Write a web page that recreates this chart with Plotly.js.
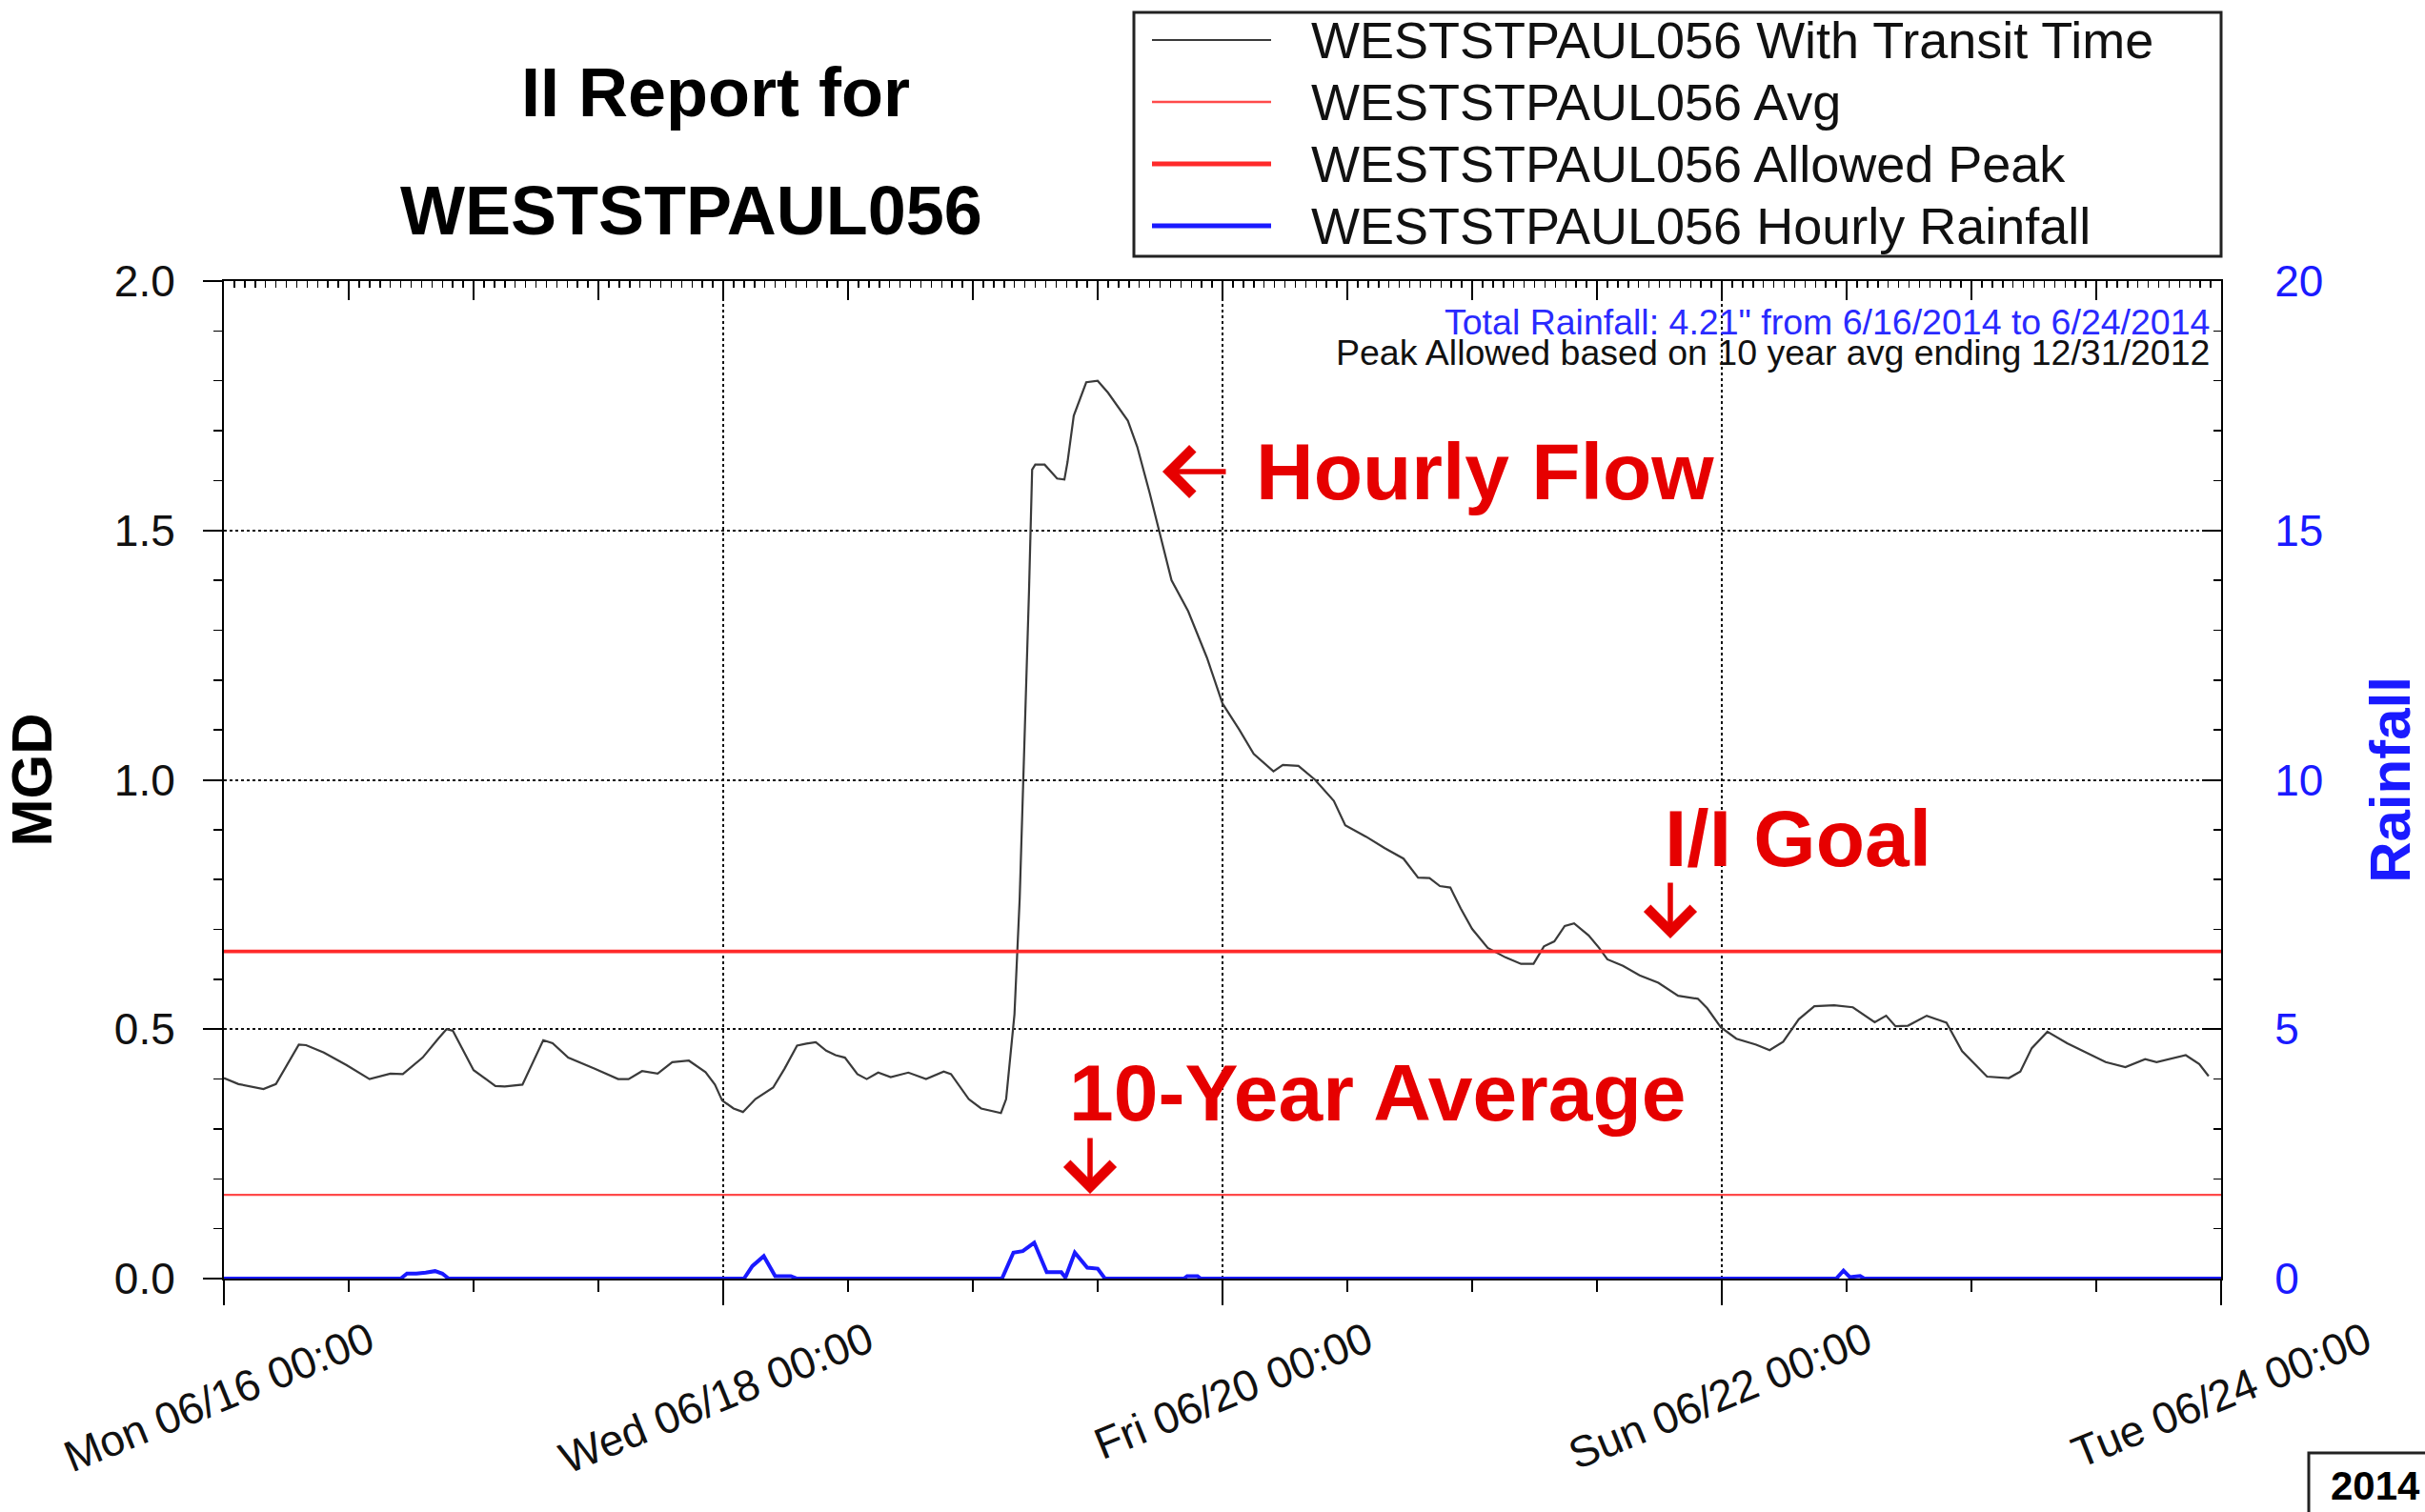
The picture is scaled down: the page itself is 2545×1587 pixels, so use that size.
<!DOCTYPE html>
<html><head><meta charset="utf-8">
<script src="https://cdn.plot.ly/plotly-3.0.1.min.js"></script>
<style>html,body{margin:0;padding:0;background:#fff;}</style>
</head><body>
<div id="chart" style="width:2545px;height:1587px;"></div>
<script>
// ---- data ----
const seriesNames = ['WESTSTPAUL056 With Transit Time','WESTSTPAUL056 Avg','WESTSTPAUL056 Allowed Peak','WESTSTPAUL056 Hourly Rainfall'];
const seriesColors = ['#3a3a3a', '#ff4a4a', '#ff2a2a', '#1a1aff'];
const rangeStart = '2014-06-16 00:00:00';
const rangeEnd = '2014-06-24 00:00:00';
// hours after Mon 06/16 00:00
const flowHours = [0,1.4,3.8,5.0,7.2,7.9,9.6,11.8,14.0,15.4,16.0,17.2,19.1,20.6,21.4,22.0,24.0,26.1,27.0,28.7,30.7,31.6,33.1,35.6,37.9,38.9,40.2,41.7,43.1,44.7,46.3,47.2,47.9,49.0,49.9,51.1,52.8,53.9,55.1,56.0,56.9,57.9,58.8,59.7,60.9,61.8,62.9,64.1,65.8,67.5,69.2,69.9,71.6,72.8,74.7,75.2,75.6,76.0,76.5,76.9,77.4,77.7,78.0,78.9,80.1,80.8,81.1,81.7,82.9,84.0,85.0,86.9,87.8,89.0,90.2,91.1,92.7,94.5,96.0,97.6,99.0,100.9,101.8,103.3,104.9,106.7,107.8,109.8,111.6,113.4,114.8,115.9,116.9,117.9,118.9,120.0,121.5,123.2,124.7,125.9,126.9,127.9,128.9,129.8,131.2,132.2,133.0,134.5,136.1,137.9,139.8,141.7,142.6,143.9,145.4,147.3,148.6,149.9,151.4,152.9,154.8,156.6,158.7,159.8,160.7,161.9,163.7,165.6,167.1,169.5,171.6,172.7,173.8,175.3,177.2,179.1,180.9,182.8,184.7,185.8,187.3,188.6,189.9,190.8];
const flowValues = [0.402,0.390,0.380,0.390,0.469,0.468,0.453,0.428,0.400,0.408,0.411,0.410,0.443,0.481,0.500,0.497,0.418,0.386,0.385,0.389,0.478,0.472,0.443,0.421,0.400,0.400,0.416,0.411,0.434,0.437,0.414,0.389,0.357,0.341,0.334,0.360,0.383,0.421,0.467,0.471,0.474,0.457,0.448,0.443,0.410,0.400,0.413,0.404,0.413,0.400,0.415,0.410,0.360,0.341,0.332,0.360,0.450,0.530,0.761,1.019,1.379,1.622,1.632,1.632,1.604,1.602,1.637,1.730,1.797,1.800,1.776,1.720,1.668,1.575,1.472,1.400,1.338,1.245,1.153,1.101,1.052,1.017,1.030,1.028,1.000,0.958,0.909,0.886,0.863,0.842,0.804,0.803,0.787,0.784,0.742,0.701,0.663,0.644,0.631,0.631,0.666,0.676,0.707,0.712,0.688,0.663,0.640,0.627,0.608,0.593,0.567,0.561,0.542,0.504,0.481,0.469,0.458,0.475,0.520,0.546,0.548,0.544,0.514,0.527,0.506,0.507,0.527,0.513,0.456,0.405,0.402,0.415,0.462,0.495,0.472,0.453,0.434,0.424,0.440,0.434,0.442,0.448,0.430,0.406];
const rainHours = [0,17.0,17.6,18.5,19.4,20.3,21.0,21.6,50.0,50.8,51.9,53.0,54.5,55.1,74.8,75.9,76.8,77.9,79.1,80.5,80.9,81.8,83.0,84.0,84.7,92.3,92.6,93.6,93.9,155.0,155.7,156.3,157.3,157.7,192];
const rainValues = [0,0,0.10,0.10,0.12,0.15,0.10,0,0,0.25,0.45,0.05,0.05,0,0,0.52,0.55,0.72,0.13,0.13,0.02,0.52,0.22,0.20,0,0,0.05,0.05,0,0,0.16,0.03,0.05,0,0];
const avgValue = 0.168;
const peakValue = 0.656;
const titleLine1 = 'II Report for';
const titleLine2 = 'WESTSTPAUL056';
const noteRain = 'Total Rainfall: 4.21" from 6/16/2014 to 6/24/2014';
const notePeak = 'Peak Allowed based on 10 year avg ending 12/31/2012';
const calloutTexts = ['Hourly Flow', 'I/I Goal', '10-Year Average'];
const cornerText = '2014';

// ---- helpers ----
function toDate(h) {
  const d = new Date(Date.UTC(2014, 5, 16) + Math.round(h * 3600000));
  return d.toISOString().slice(0, 19).replace('T', ' ');
}
// page pixel -> paper fraction (plot area 235..2331 x, 295..1342 y)
const PL = 235, PR = 2331, PT = 295, PB = 1342;
const px = x => (x - PL) / (PR - PL);
const py = y => (PB - y) / (PB - PT);
const FONT = 'Liberation Sans, Arial, sans-serif';
const RED = '#e60000';
const flowX = flowHours.map(toDate);
const rainX = rainHours.map(toDate);

const traces = [
  {x: flowX, y: flowValues, name: seriesNames[0], mode: 'lines', line: {color: seriesColors[0], width: 2.2}},
  {x: [rangeStart, rangeEnd], y: [avgValue, avgValue], name: seriesNames[1], mode: 'lines', line: {color: seriesColors[1], width: 2.2}},
  {x: [rangeStart, rangeEnd], y: [peakValue, peakValue], name: seriesNames[2], mode: 'lines', line: {color: seriesColors[2], width: 3.6}},
  {x: rainX, y: rainValues, name: seriesNames[3], mode: 'lines', line: {color: seriesColors[3], width: 4}, yaxis: 'y2'},
  {x: [rangeStart, rangeEnd], y: [null, null], mode: 'lines', xaxis: 'x2', yaxis: 'y', showlegend: false, hoverinfo: 'skip'}
];

// custom legend drawn like the reference box
const legendRows = [42, 107, 172, 237];
const legendWidths = [2.2, 2.4, 5, 5];
const shapes = [
  {type: 'rect', xref: 'paper', yref: 'paper', x0: px(1190), x1: px(2331), y0: py(13), y1: py(269),
   line: {color: '#222', width: 3}, fillcolor: '#ffffff', layer: 'above'},
  {type: 'rect', xref: 'paper', yref: 'paper', x0: px(2423), x1: px(2600), y0: py(1525), y1: py(1640),
   line: {color: '#222', width: 3}, fillcolor: 'rgba(0,0,0,0)'}
];
const annotations = [];
legendRows.forEach((ry, i) => {
  shapes.push({type: 'line', xref: 'paper', yref: 'paper', x0: px(1209), x1: px(1334), y0: py(ry), y1: py(ry),
               line: {color: seriesColors[i], width: legendWidths[i]}, layer: 'above'});
  annotations.push({text: seriesNames[i], xref: 'paper', yref: 'paper', x: px(1374), y: py(ry), xanchor: 'left', yanchor: 'middle',
                    showarrow: false, font: {family: FONT, size: 54, color: '#111'}});
});
annotations.push(
  {text: titleLine2, xref: 'paper', yref: 'paper', x: px(725), y: py(221), xanchor: 'center', yanchor: 'middle',
   showarrow: false, font: {family: FONT, size: 72, weight: 'bold', color: '#000'}},
  {text: noteRain, xref: 'paper', yref: 'paper', x: px(2321), y: py(338), xanchor: 'right', yanchor: 'middle',
   showarrow: false, font: {family: FONT, size: 37.5, color: '#2a2aff'}},
  {text: notePeak, xref: 'paper', yref: 'paper', x: px(2321), y: py(370), xanchor: 'right', yanchor: 'middle',
   showarrow: false, font: {family: FONT, size: 37.5, color: '#111'}},
  {text: calloutTexts[0], xref: 'paper', yref: 'paper', x: px(1316), y: py(495), xanchor: 'left', yanchor: 'middle',
   showarrow: false, font: {family: FONT, size: 84, weight: 'bold', color: RED}},
  {text: calloutTexts[1], xref: 'paper', yref: 'paper', x: px(1745), y: py(880), xanchor: 'left', yanchor: 'middle',
   showarrow: false, font: {family: FONT, size: 84, weight: 'bold', color: RED}},
  {text: calloutTexts[2], xref: 'paper', yref: 'paper', x: px(1120), y: py(1147), xanchor: 'left', yanchor: 'middle',
   showarrow: false, font: {family: FONT, size: 84, weight: 'bold', color: RED}},
  // arrows (tip at x,y; tail offset ax/ay in px)
  {text: '', xref: 'paper', yref: 'paper', x: px(1220), y: py(495), ax: 68, ay: 0, showarrow: true,
   arrowhead: 4, arrowsize: 1.7, arrowwidth: 5.5, arrowcolor: RED},
  {text: '', xref: 'paper', yref: 'paper', x: px(1753), y: py(985), ax: 0, ay: -60, showarrow: true,
   arrowhead: 4, arrowsize: 1.7, arrowwidth: 5.5, arrowcolor: RED},
  {text: '', xref: 'paper', yref: 'paper', x: px(1144), y: py(1253), ax: 0, ay: -60, showarrow: true,
   arrowhead: 4, arrowsize: 1.7, arrowwidth: 5.5, arrowcolor: RED},
  {text: cornerText, xref: 'paper', yref: 'paper', x: px(2444), y: py(1560), xanchor: 'left', yanchor: 'middle',
   showarrow: false, font: {family: FONT, size: 42, weight: 'bold', color: '#000'}}
);

const layout = {
  width: 2545, height: 1587,
  margin: {l: 235, r: 214, t: 295, b: 245, pad: 0},
  paper_bgcolor: '#ffffff', plot_bgcolor: '#ffffff',
  font: {family: FONT, color: '#000', size: 46},
  showlegend: false,
  title: {text: titleLine1, x: 751 / 2545, xanchor: 'center', xref: 'container', y: 1 - 97 / 1587, yanchor: 'middle', yref: 'container',
          font: {family: FONT, size: 72, weight: 'bold', color: '#000'}},
  xaxis: {
    type: 'date', range: [rangeStart, rangeEnd], tick0: rangeStart, dtick: 172800000,
    tickformat: '%a %m/%d %H:%M', tickangle: -22, tickfont: {family: FONT, size: 46, color: '#111'},
    ticks: 'outside', ticklen: 26, tickwidth: 2, tickcolor: '#000',
    ticklabelshift: 152, ticklabelstandoff: -7, ticklabeloverflow: 'allow',
    showline: true, linecolor: '#000', linewidth: 2, mirror: false,
    showgrid: true, gridcolor: '#111', gridwidth: 2, griddash: 'dot',
    zeroline: false,
    minor: {dtick: 43200000, ticks: 'outside', ticklen: 12, tickwidth: 2, tickcolor: '#000', showgrid: false}
  },
  xaxis2: {
    type: 'date', overlaying: 'x', side: 'top', anchor: 'y', range: [rangeStart, rangeEnd], tick0: rangeStart,
    dtick: 43200000, ticks: 'inside', ticklen: 20, tickwidth: 2, tickcolor: '#000', showticklabels: false,
    showline: true, linecolor: '#000', linewidth: 2, showgrid: false, zeroline: false,
    minor: {dtick: 3600000, ticks: 'inside', ticklen: 7, tickwidth: 1.5, tickcolor: '#000', showgrid: false}
  },
  yaxis: {
    range: [0, 2], dtick: 0.5, tickformat: '.1f', tickfont: {family: FONT, size: 46, color: '#111'},
    ticks: 'outside', ticklen: 20, tickwidth: 2, tickcolor: '#000', ticklabelstandoff: 20,
    showline: true, linecolor: '#000', linewidth: 2,
    showgrid: true, gridcolor: '#111', gridwidth: 2, griddash: 'dot', zeroline: false,
    minor: {dtick: 0.1, ticks: 'outside', ticklen: 9, tickwidth: 1.5, tickcolor: '#000', showgrid: false},
    title: {text: 'MGD', font: {family: FONT, size: 60, weight: 'bold', color: '#000'}, standoff: 55}
  },
  yaxis2: {
    overlaying: 'y', side: 'right', anchor: 'x', range: [0, 20], dtick: 5,
    tickfont: {family: FONT, size: 46, color: '#1a1aff'},
    ticks: 'inside', ticklen: 20, tickwidth: 2, tickcolor: '#000', ticklabelstandoff: 45,
    showline: true, linecolor: '#000', linewidth: 2, showgrid: false, zeroline: false,
    minor: {dtick: 1, ticks: 'inside', ticklen: 8, tickwidth: 1.5, tickcolor: '#000', showgrid: false},
    title: {text: 'Rainfall', font: {family: FONT, size: 60, weight: 'bold', color: '#1a1aff'}, standoff: 50}
  },
  annotations: annotations,
  shapes: shapes
};

Plotly.newPlot('chart', traces, layout, {displayModeBar: false, responsive: false, staticPlot: true});
</script>
</body></html>
